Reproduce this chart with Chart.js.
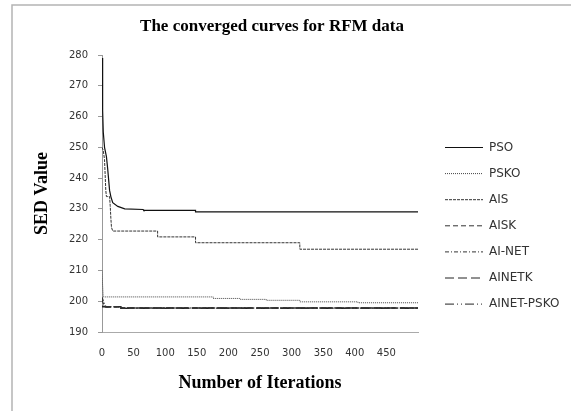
<!DOCTYPE html>
<html>
<head>
<meta charset="utf-8">
<script src="https://cdn.jsdelivr.net/npm/chart.js@4.4.1/dist/chart.umd.min.js"></script>
<style>
  body { margin: 0; background: #fff; }
  canvas { display: block; }
</style>
</head>
<body>
<canvas id="convChart" width="571" height="411"></canvas>
<script>
// Data: [iteration, SED value]
const seriesNames = ["PSO", "PSKO", "AIS", "AISK", "AI-NET", "AINETK", "AINET-PSKO"];

const pso = [[0, 279], [1, 262], [2, 255], [4, 250], [7, 247], [9, 243], [12, 236], [14, 234],
  [17, 232], [25, 230.8], [36, 230], [65, 229.8], [66, 229.5], [148, 229.5], [148, 229.0], [500, 229.0]];
const psko = [[0, 210], [1, 205], [2, 201.4], [176, 201.4], [176, 200.9], [218, 200.9], [218, 200.6],
  [260, 200.6], [260, 200.3], [313, 200.3], [313, 199.8], [405, 199.8], [405, 199.5], [500, 199.5]];
const ais = [[0, 250], [2, 249], [4, 246], [5, 241], [6, 236], [7, 234], [12, 234], [13, 231],
  [14, 227], [15, 224], [17, 222.8], [88, 222.8], [88, 220.9], [148, 220.9], [148, 219.0],
  [313, 219.0], [313, 216.9], [500, 216.9]];
const aisk = [[0, 200.5], [2, 199.2], [6, 198.2], [30, 198.2], [30, 197.8], [500, 197.8]];
const aiNet = [[0, 201.3], [3, 199.5], [6, 198.2], [32, 198.2], [32, 197.8], [500, 197.8]];
const ainetk = [[0, 198.2], [30, 198.2], [30, 197.8], [500, 197.8]];
const ainetPsko = [[0, 198.4], [8, 198.2], [30, 198.2], [30, 197.7], [500, 197.7]];

const allSeries = [pso, psko, ais, aisk, aiNet, ainetk, ainetPsko];

// y axis 190..280 step 10, x axis 0..500 step 50 (500 not labelled)
const yMin = 190, yMax = 280, yStep = 10;
const xMin = 0, xMax = 500, xStep = 50;

// line looks
const dashes = [[], [1, 1], [3, 1], [5, 3], [4, 2, 1, 2], [9, 4], [9, 3, 1, 3, 1, 3]];
const colors = ["#111", "#444", "#333", "#333", "#333", "#222", "#222"];
const widths = [1.2, 1, 1, 1.3, 1.3, 1.3, 1.3];

// title, frame and the right-hand legend
const decorPlugin = {
  id: "decor",
  beforeDraw(chart) {
    const ctx = chart.ctx;
    ctx.save();
    ctx.fillStyle = "#fff";
    ctx.fillRect(0, 0, chart.width, chart.height);
    ctx.strokeStyle = "#b4b4b4";
    ctx.lineWidth = 1.5;
    ctx.beginPath();
    ctx.moveTo(12, chart.height);
    ctx.lineTo(12, 5);
    ctx.lineTo(chart.width, 5);
    ctx.stroke();
    ctx.restore();
  },
  afterDraw(chart) {
    const ctx = chart.ctx;
    ctx.save();
    ctx.fillStyle = "#000";
    ctx.font = "bold 17px 'Liberation Serif'";
    ctx.textAlign = "center";
    ctx.textBaseline = "middle";
    ctx.fillText("The converged curves for RFM data", 272, 27);

    ctx.font = "12px 'DejaVu Sans'";
    ctx.textAlign = "left";
    chart.data.datasets.forEach((ds, i) => {
      const y = 147.5 + i * 26.1;
      ctx.strokeStyle = ds.borderColor;
      ctx.lineWidth = 1;
      ctx.setLineDash(ds.borderDash);
      ctx.beginPath();
      ctx.moveTo(445, y);
      ctx.lineTo(483, y);
      ctx.stroke();
      ctx.fillStyle = "#333";
      ctx.fillText(ds.label, 489, y);
    });
    ctx.restore();
  }
};

const datasets = allSeries.map((s, i) => ({
  label: seriesNames[i],
  data: s.map(([x, y]) => ({ x, y })),
  borderColor: colors[i],
  borderWidth: widths[i],
  borderDash: dashes[i],
  pointRadius: 0,
  tension: 0,
  fill: false
}));

new Chart(document.getElementById("convChart"), {
  type: "line",
  data: { datasets },
  options: {
    responsive: false,
    animation: false,
    devicePixelRatio: 1,
    layout: { padding: { left: 0, right: 153, top: 55, bottom: 0 } },
    plugins: {
      legend: { display: false },
      title: { display: false },
      tooltip: { enabled: false }
    },
    scales: {
      x: {
        type: "linear",
        min: xMin,
        max: xMax,
        afterFit: (scale) => { scale.height = 79; },
        ticks: {
          stepSize: xStep,
          padding: 15,
          color: "#333",
          font: { family: "'DejaVu Sans'", size: 10 },
          maxRotation: 0,
          callback: (v) => (v === xMax ? "" : v)
        },
        grid: { display: false, drawTicks: false },
        border: { display: true, color: "#aaa", width: 1 },
        title: {
          display: true,
          text: "Number of Iterations",
          color: "#000",
          font: { family: "'Liberation Serif'", size: 18, weight: "bold" },
          padding: { top: 0, bottom: 17 }
        }
      },
      y: {
        min: yMin,
        max: yMax,
        afterFit: (scale) => { scale.width = 102; },
        ticks: {
          stepSize: yStep,
          padding: 10,
          color: "#333",
          font: { family: "'DejaVu Sans'", size: 10 }
        },
        grid: { display: true, drawOnChartArea: false, drawTicks: true, tickLength: 4, color: "#999" },
        border: { display: true, color: "#999", width: 1 },
        title: {
          display: true,
          text: "SED Value",
          color: "#000",
          font: { family: "'Liberation Serif'", size: 18, weight: "bold" },
          padding: { top: 32, bottom: 0 }
        }
      }
    }
  },
  plugins: [decorPlugin]
});
</script>
</body>
</html>
